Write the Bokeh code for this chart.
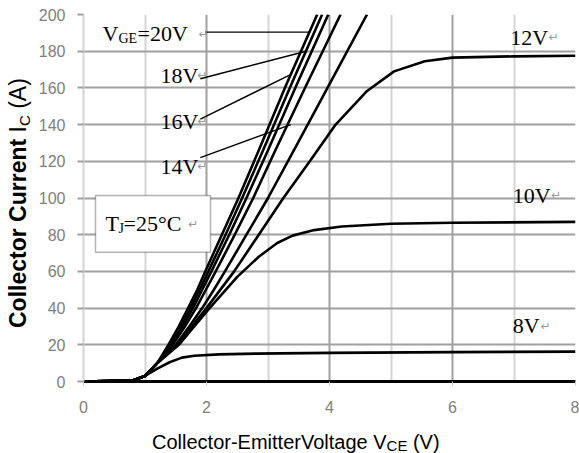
from bokeh.plotting import figure
from bokeh.models import Label, BoxAnnotation, FixedTicker, Div
from bokeh.layouts import row, column
from bokeh.embed import file_html
from bokeh.resources import INLINE

# ---- data ----
vce_20 = [0, 0.8, 1.0, 1.2, 1.38, 1.55, 1.70, 1.85, 1.98, 2.25, 2.52, 2.85, 3.3, 3.80]
ic_20 = [0, 0.5, 3, 10, 20, 30, 40, 50, 60, 80, 100, 126, 162, 200]

vce_19 = [0, 0.8, 1.0, 1.2, 1.40, 1.58, 1.74, 1.89, 2.03, 2.31, 2.58, 2.92, 3.38, 3.88]
ic_19 = [0, 0.5, 3, 10, 20, 30, 40, 50, 60, 80, 100, 126, 162, 200]

vce_18 = [0, 0.8, 1.0, 1.2, 1.42, 1.61, 1.78, 1.93, 2.08, 2.37, 2.65, 3.0, 3.47, 3.98]
ic_18 = [0, 0.5, 3, 10, 20, 30, 40, 50, 60, 80, 100, 126, 162, 200]

vce_16 = [0, 0.8, 1.0, 1.2, 1.45, 1.65, 1.83, 1.99, 2.15, 2.46, 2.76, 3.12, 3.63, 4.18]
ic_16 = [0, 0.5, 3, 10, 20, 30, 40, 50, 60, 80, 100, 126, 162, 200]

vce_14 = [0, 0.8, 1.0, 1.2, 1.5, 1.72, 1.93, 2.12, 2.3, 2.65, 3.0, 3.42, 4.0, 4.61]
ic_14 = [0, 0.5, 3, 10, 20, 30, 40, 50, 60, 80, 100, 126, 162, 200]

vce_12 = [0, 0.8, 1.0, 1.2, 1.52, 1.76, 2.0, 2.45, 2.85, 3.25, 3.68, 4.1, 4.6, 5.05, 5.55, 6.0, 7.0, 8.0]
ic_12 = [0, 0.5, 3, 10, 20, 30, 40, 60, 80, 100, 120, 140, 158, 169, 174.5, 176.5, 177.2, 177.5]

vce_10 = [0, 0.8, 1.0, 1.2, 1.55, 1.8, 2.05, 2.5, 2.85, 3.15, 3.4, 3.75, 4.2, 5.0, 6.0, 8.0]
ic_10 = [0, 0.5, 3, 10, 20, 30, 40, 57, 68, 75.5, 79.5, 82.5, 84.5, 86, 86.5, 87]

vce_8 = [0, 0.8, 1.0, 1.2, 1.4, 1.6, 1.8, 2.2, 2.8, 4.0, 6.0, 8.0]
ic_8 = [0, 0.5, 3, 7, 10.5, 13, 14, 14.8, 15.2, 15.6, 16, 16.3]

curves = [(vce_20, ic_20), (vce_19, ic_19), (vce_18, ic_18), (vce_16, ic_16),
          (vce_14, ic_14), (vce_12, ic_12), (vce_10, ic_10), (vce_8, ic_8)]

x_ticks = [0, 2, 4, 6, 8]
x_minor = [1, 3, 5, 7]
y_ticks = [0, 20, 40, 60, 80, 100, 120, 140, 160, 180, 200]

# curve labels: text, x (left), y (middle)
label_texts = ["18V", "16V", "14V", "12V", "10V", "8V"]
label_x = [1.25, 1.25, 1.25, 6.94, 6.98, 6.98]
label_y = [166.8, 141.7, 117.2, 187.7, 101.4, 30.5]
mark_x = [1.85, 1.85, 1.85, 7.56, 7.60, 7.43]

# pointer lines from labels to curves
ptr_x0 = [1.98, 1.90, 1.90, 1.90]
ptr_y0 = [190.4, 165.0, 143.0, 122.0]
ptr_x1 = [3.69, 3.62, 3.35, 3.37]
ptr_y1 = [190.4, 180.0, 167.0, 140.0]

# ---- figure ----
p = figure(width=545, height=430, x_range=(0, 8), y_range=(0, 200),
           output_backend="svg", toolbar_location=None,
           min_border_left=49, min_border_right=4, min_border_top=14, min_border_bottom=49)
p.background_fill_color = "white"
p.border_fill_color = "white"
p.outline_line_color = None

p.xaxis.ticker = FixedTicker(ticks=x_ticks, minor_ticks=x_minor)
p.yaxis.ticker = FixedTicker(ticks=y_ticks)
p.xgrid.ticker = FixedTicker(ticks=[2, 4, 6, 8], minor_ticks=[0, 1, 3, 5, 7])
p.xgrid.grid_line_color = "#a0a0a0"
p.xgrid.grid_line_width = 2
p.xgrid.minor_grid_line_color = "#d4d4d4"
p.xgrid.minor_grid_line_width = 2
p.ygrid.grid_line_color = "#a0a0a0"
p.ygrid.grid_line_width = 2

for ax in (p.xaxis[0], p.yaxis[0]):
    ax.major_label_text_font = "Liberation Sans"
    ax.major_label_text_font_size = "16px"
    ax.major_label_text_color = "#808080"
    ax.minor_tick_out = 0
    ax.minor_tick_in = 0
    ax.major_tick_in = 0

p.xaxis.axis_line_color = "black"
p.xaxis.axis_line_width = 3
p.xaxis.major_tick_out = 4
p.xaxis.major_tick_line_color = "#c8c8c8"
p.xaxis.major_label_standoff = 15

p.yaxis.axis_line_color = "#d4d4d4"
p.yaxis.axis_line_width = 2
p.yaxis.major_tick_out = 6
p.yaxis.major_tick_line_color = "#a0a0a0"
p.yaxis.major_tick_line_width = 2
p.yaxis.major_label_standoff = 12

for xs, ys in curves:
    p.line(xs, ys, line_color="black", line_width=2.6, line_join="round")

p.segment(ptr_x0, ptr_y0, ptr_x1, ptr_y1, line_color="black", line_width=1.4)

serif = "Liberation Serif"

# T_J box
p.add_layout(BoxAnnotation(left=0.195, right=2.065, bottom=70.4, top=101.4,
                           fill_color="white", fill_alpha=1.0,
                           line_color="black", line_width=1.5))

def lab(x, y, text, size="22px", xo=0, yo=0, font=serif, color="black"):
    p.add_layout(Label(x=x, y=y, text=text, x_offset=xo, y_offset=yo,
                       text_font=font, text_font_size=size, text_color=color,
                       text_baseline="middle", text_align="left"))

# V_GE = 20V
lab(0.309, 189.6, "V")
lab(0.309, 189.6, "GE", size="14px", xo=16, yo=-5)
lab(0.309, 189.6, "=20V", xo=35)
lab(1.87, 189.6, "\u21b5", size="12px", font="DejaVu Sans", color="#9a9a9a")

for t, x, y, mx in zip(label_texts, label_x, label_y, mark_x):
    lab(x, y, t)
    lab(mx, y, "\u21b5", size="12px", font="DejaVu Sans", color="#9a9a9a")

# T_J = 25 C
lab(0.358, 86.1, "T")
lab(0.358, 86.1, "J", size="14px", xo=13, yo=-5)
lab(0.358, 86.1, "=25\u00b0C", xo=18)
lab(1.70, 86.1, "\u21b5", size="12px", font="DejaVu Sans", color="#9a9a9a")

# ---- axis titles as HTML (rich text: bold part, subscripts) ----
font_css = "font-family:'Liberation Sans',Arial,sans-serif;color:#000;"
y_title = Div(width=34, height=453, margin=0, text=(
    '<div style="position:relative;width:34px;height:453px;">'
    '<div style="position:absolute;left:7px;top:328px;transform-origin:0 0;'
    'transform:rotate(-90deg);white-space:nowrap;font-size:23px;line-height:23px;' + font_css + '">'
    '<b>Collector Current</b> I<span style="font-size:15px;position:relative;top:4px;">C</span> (A)'
    '</div></div>'))
x_title = Div(width=545, height=23, margin=0, text=(
    '<div style="padding-left:118px;padding-top:3px;white-space:nowrap;'
    'font-size:20px;line-height:18px;' + font_css + '">'
    'Collector-EmitterVoltage V<span style="font-size:15px;position:relative;top:2px;">CE</span> (V)'
    '</div>'))

layout = row(y_title, column(p, x_title))

open("out.html", "w").write(file_html(layout, INLINE))
